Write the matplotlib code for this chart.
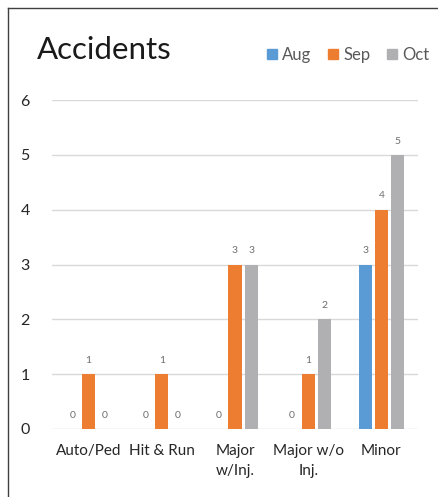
import matplotlib.pyplot as plt
import numpy as np
from matplotlib.lines import Line2D
import matplotlib.patches as mpatches

plt.rcParams['font.family'] = ['Lato', 'DejaVu Sans']

categories = ["Auto/Ped", "Hit & Run", "Major\nw/Inj.", "Major w/o\nInj.", "Minor"]
months = ["Aug", "Sep", "Oct"]
aug = [0, 0, 0, 0, 3]
sep = [1, 1, 3, 1, 4]
oct_ = [0, 0, 3, 2, 5]
colors = ["#5B9BD5", "#ED7D31", "#B0B0B3"]

fig = plt.figure(figsize=(4.39, 4.97), dpi=100)
ax = fig.add_axes([52/439, 1 - 429/497, 366/439, 329/497])

x = np.arange(len(categories))
width = 0.18
step = 0.22
for i, (vals, col) in enumerate(zip([aug, sep, oct_], colors)):
    pos = x + (i - 1) * step
    ax.bar(pos, vals, width=width, color=col, zorder=3)
    for p, v in zip(pos, vals):
        ax.text(p, v + 0.17, str(v), ha='center', va='bottom', fontsize=7.5, color='#6e6e6e')

ax.set_xlim(-0.5, 4.5)
ax.set_ylim(0, 6)
ax.set_yticks(range(7))
ax.grid(axis='y', color='#d9d9d9', linewidth=1, zorder=0)
ax.set_xticks(x)
ax.set_xticklabels(categories, fontsize=11, color='#262626', linespacing=1.5)
ax.tick_params(axis='y', length=0, labelsize=11.5, labelcolor='#262626', pad=16)
ax.tick_params(axis='x', length=0, pad=11)
for s in ax.spines.values():
    s.set_visible(False)

# title and legend
fig.text(37/439, 1 - 50/497, "Accidents", fontsize=22.5, color='#1a1a1a', va='center', ha='left')
handles = [mpatches.Patch(color=c, label=m) for c, m in zip(colors, months)]
fig.legend(handles=handles, loc='center', bbox_to_anchor=(348/439, 1 - 55/497), ncol=3,
           frameon=False, fontsize=12, handlelength=0.6, handleheight=0.6,
           handletextpad=0.3, columnspacing=1.0, labelcolor='#595959')

# chart border (cut off at right and bottom)
fig.add_artist(Line2D([8/439, 8/439], [0, 1 - 8/497], color='#404040', linewidth=1))
fig.add_artist(Line2D([8/439, 1], [1 - 8/497, 1 - 8/497], color='#404040', linewidth=1))

plt.savefig("out.png", dpi=100)
